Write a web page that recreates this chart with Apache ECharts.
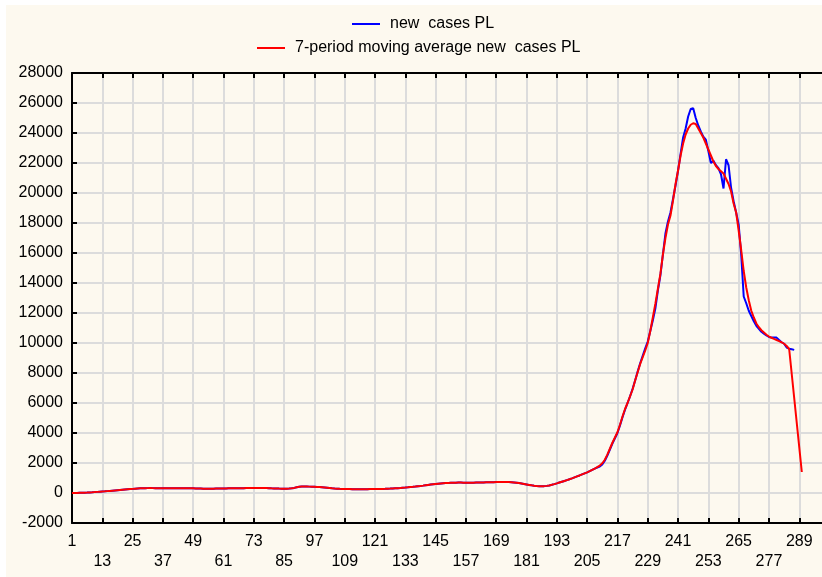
<!DOCTYPE html>
<html>
<head>
<meta charset="utf-8">
<script src="https://cdn.jsdelivr.net/npm/echarts@6/dist/echarts.min.js"></script>
<style>
html,body{margin:0;padding:0;background:#ffffff;overflow:hidden;}
#chart{width:822px;height:577px;}
</style>
</head>
<body>
<div id="chart"></div>
<script>
// Categories: day number 1..298
const dayCount = 298;
const days = [];
for (let d = 1; d <= dayCount; d++) days.push(String(d));

// Values for days 1..208 (both series coincide here)
const lowPart = [
  0, 2, 5, 10, 15, 22, 30, 40, 50, 62, 75, 88,
  100, 112, 125, 140, 155, 170, 185, 200, 215, 230, 245, 260,
  275, 290, 300, 310, 318, 322, 325, 326, 325, 322, 320, 318,
  316, 315, 316, 318, 320, 322, 322, 320, 318, 316, 315, 314,
  312, 308, 302, 296, 290, 286, 284, 285, 288, 292, 296, 300,
  304, 308, 312, 314, 315, 315, 316, 318, 322, 326, 330, 334,
  338, 340, 340, 338, 334, 328, 320, 312, 305, 298, 292, 288,
  286, 288, 295, 310, 340, 380, 415, 435, 440, 435, 425, 418,
  412, 405, 395, 382, 368, 352, 335, 318, 302, 290, 280, 272,
  266, 262, 260, 258, 257, 256, 256, 256, 257, 258, 260, 262,
  264, 266, 268, 272, 278, 285, 293, 302, 312, 322, 334, 348,
  362, 378, 395, 412, 430, 450, 470, 492, 515, 538, 560, 582,
  602, 620, 636, 650, 662, 672, 680, 686, 690, 692, 692, 690,
  688, 686, 686, 688, 692, 696, 700, 705, 710, 715, 720, 724,
  727, 730, 732, 733, 732, 728, 720, 705, 685, 660, 630, 600,
  570, 540, 510, 485, 466, 455, 452, 458, 475, 505, 545, 590,
  640, 695, 750, 805, 860, 915, 975, 1040, 1105, 1170, 1240, 1310,
  1380, 1460, 1545, 1630
];

// new cases PL, days 209..287
const newCasesTail = [
  1700, 1760, 1900, 2150, 2500, 2900, 3300, 3650, 4000, 4500,
  5050, 5550, 6000, 6450, 6950, 7500, 8100, 8650, 9150, 9650,
  10100, 10800, 11500, 12300, 13500, 14500, 15900, 17300, 18100, 18700,
  19600, 20500, 21500, 22600, 23700, 24300, 25100, 25600, 25650, 25000,
  24500, 24100, 23750, 23550, 22800, 22000, 22150, 21850, 21650, 21250,
  20300, 22250, 21850, 20350, 19450, 18700, 17900, 15900, 13100, 12650,
  12150, 11800, 11450, 11150, 10950, 10750, 10620, 10500, 10400, 10360,
  10360, 10360, 10200, 10050, 9950, 9700, 9620, 9580, 9540
];

// 7-period moving average, days 209..290 (286..289 not drawn)
const movingAvgTail = [
  1720, 1830, 1980, 2220, 2560, 2950, 3350, 3700, 4050, 4550,
  5100, 5600, 6000, 6450, 6900, 7500, 8050, 8600, 9050, 9500,
  10000, 10800, 11700, 12600, 13600, 14600, 15900, 17000, 17900, 18500,
  19500, 20600, 21500, 22500, 23300, 23900, 24300, 24550, 24650, 24600,
  24300, 24000, 23700, 23300, 22900, 22500, 22100, 21800, 21600, 21450,
  21300, 20950, 20600, 20100, 19300, 18700, 17500, 16200, 14800, 13700,
  12850, 12150, 11700, 11300, 11050, 10850, 10700, 10550, 10430, 10350,
  10270, 10200, 10130, 10050, 9950, 9800, 9600,
  null, null, null, null, 1400
];

const newCases = lowPart.concat(newCasesTail);
const movingAvg = lowPart.concat(movingAvgTail);

const yMin = -2000, yMax = 28000, yStep = 2000;
const seriesNames = ['new  cases PL', '7-period moving average new  cases PL'];

const FONT = "'Liberation Sans', Arial, sans-serif";
const chart = echarts.init(document.getElementById('chart'), null, {renderer: 'canvas'});

const gridLine = {show: true, lineStyle: {color: '#dcdcdc', width: 2}};

chart.setOption({
  backgroundColor: '#fdf9ef',
  animation: false,
  graphic: [
    {type: 'rect', shape: {x: 0, y: 0, width: 822, height: 5}, style: {fill: '#ffffff'}, z: 100},
    {type: 'rect', shape: {x: 0, y: 0, width: 6, height: 577}, style: {fill: '#ffffff'}, z: 100}
  ],
  legend: [
    {
      data: [seriesNames[0]], left: 352, top: 16, padding: 0,
      icon: 'rect', itemWidth: 28, itemHeight: 2,
      textStyle: {fontFamily: FONT, fontSize: 16, color: '#000', padding: [0, 0, 0, 5]}
    },
    {
      data: [seriesNames[1]], left: 257, top: 40, padding: 0,
      icon: 'rect', itemWidth: 28, itemHeight: 2,
      textStyle: {fontFamily: FONT, fontSize: 16, color: '#000', padding: [0, 0, 0, 5]}
    }
  ],
  grid: {left: 72, top: 73, width: 751, height: 450, containLabel: false},
  xAxis: [
    {
      type: 'category', data: days, boundaryGap: false, position: 'bottom',
      axisLine: {show: true, onZero: false, lineStyle: {color: '#000', width: 2}},
      axisTick: {show: true, inside: true, length: 5, interval: 11, lineStyle: {color: '#000', width: 2}},
      splitLine: Object.assign({interval: 11}, gridLine),
      axisLabel: {
        interval: 11, margin: 9, fontFamily: FONT, fontSize: 16, color: '#000', lineHeight: 20,
        formatter: function (v) {
          const k = (Number(v) - 1) / 12;
          return (k % 2 === 1) ? '\n' + v : v;
        }
      }
    },
    {
      type: 'category', data: days, boundaryGap: false, position: 'top',
      axisLine: {show: true, onZero: false, lineStyle: {color: '#000', width: 2}},
      axisTick: {show: true, inside: true, length: 5, interval: 11, lineStyle: {color: '#000', width: 2}},
      axisLabel: {show: false},
      splitLine: {show: false}
    }
  ],
  yAxis: {
    type: 'value', min: yMin, max: yMax, interval: yStep,
    axisLine: {show: true, lineStyle: {color: '#000', width: 2}},
    axisTick: {show: true, inside: true, length: 5, lineStyle: {color: '#000', width: 2}},
    splitLine: gridLine,
    axisLabel: {
      margin: 9, fontFamily: FONT, fontSize: 16, color: '#000',
      formatter: function (v) { return String(v); }
    }
  },
  series: [
    {
      name: seriesNames[0], type: 'line', data: newCases, xAxisIndex: 0,
      symbol: 'none', lineStyle: {color: '#0000ff', width: 2}, itemStyle: {color: '#0000ff'}
    },
    {
      name: seriesNames[1], type: 'line', data: movingAvg, xAxisIndex: 0, connectNulls: true,
      symbol: 'none', lineStyle: {color: '#ff0000', width: 2}, itemStyle: {color: '#ff0000'}
    }
  ]
});
</script>
</body>
</html>
